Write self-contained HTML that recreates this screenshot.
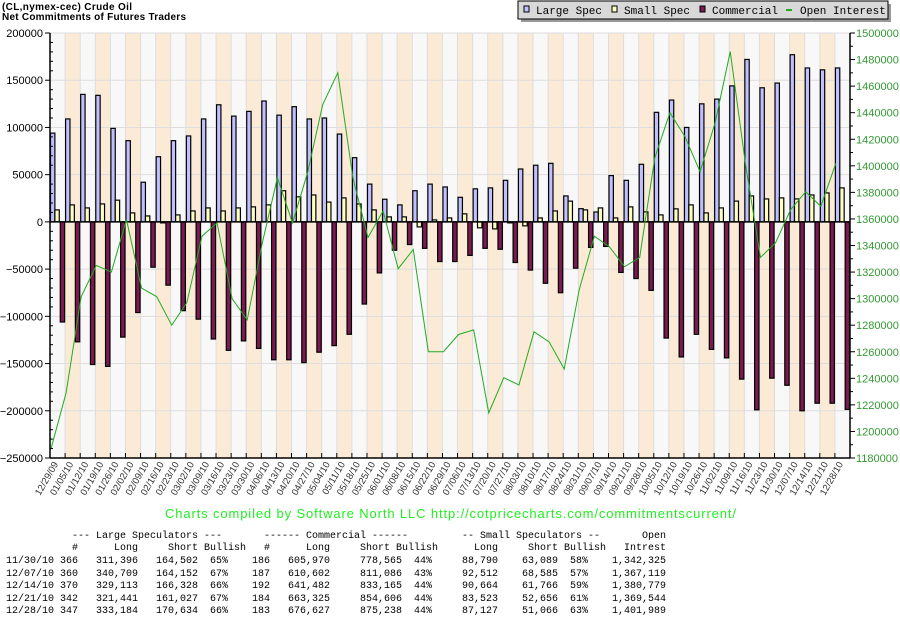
<!DOCTYPE html>
<html><head><meta charset="utf-8">
<style>
html,body{margin:0;padding:0;background:#fff;}
body{width:900px;height:620px;position:relative;overflow:hidden;font-family:"Liberation Sans",sans-serif;}
#chart{position:absolute;left:0;top:0;}
.tbl{position:absolute;left:0;top:530px;width:900px;height:90px;font-family:"Liberation Mono",monospace;font-size:10px;color:#000;}
.tbl span{position:absolute;white-space:pre;line-height:12px;}
</style></head><body>
<svg id="chart" width="900" height="620" xmlns="http://www.w3.org/2000/svg">
  <text x="2" y="10" font-family="Liberation Sans, sans-serif" font-size="10" font-weight="bold" textLength="130">(CL,nymex-cec) Crude Oil</text>
  <text x="2" y="20" font-family="Liberation Sans, sans-serif" font-size="10" font-weight="bold" textLength="184">Net Commitments of Futures Traders</text>
  <g id="plot"></g>
  <g>
    <rect x="521" y="4" width="370" height="18" fill="#999"/>
    <rect x="518" y="1" width="370" height="18" fill="#d8d8d8" stroke="#000" stroke-width="1"/>
    <g><rect x="524" y="6" width="5" height="6" fill="#c0c0ff" stroke="#000"/><text x="536" y="14" font-family="Liberation Mono, monospace" font-size="11">Large Spec</text></g>
    <g><rect x="612" y="6" width="5" height="6" fill="#ffffc0" stroke="#000"/><text x="624" y="14" font-family="Liberation Mono, monospace" font-size="11">Small Spec</text></g>
    <g><rect x="700" y="6" width="5" height="6" fill="#7a1a50" stroke="#000"/><text x="712" y="14" font-family="Liberation Mono, monospace" font-size="11">Commercial</text></g>
    <g><line x1="786" y1="10" x2="792" y2="10" stroke="#22aa22" stroke-width="2"/><text x="800" y="14" font-family="Liberation Mono, monospace" font-size="11">Open Interest</text></g>
  </g>
  <text x="165" y="518" font-family="Liberation Sans, sans-serif" font-size="13" fill="#22ee22" textLength="571">Charts compiled by Software North LLC  http://cotpricecharts.com/commitmentscurrent/</text>
</svg>

<div class="tbl">
  <span style="left:72px;top:1px">--- Large Speculators ---</span>
  <span style="left:264px;top:1px">------ Commercial ------</span>
  <span style="left:462px;top:1px">-- Small Speculators --</span>
  <span style="left:642px;top:1px">Open</span>
  <span style="left:72px;top:13px">#</span><span style="left:114px;top:13px">Long</span><span style="left:168px;top:13px">Short</span><span style="left:204px;top:13px">Bullish</span>
  <span style="left:264px;top:13px">#</span><span style="left:306px;top:13px">Long</span><span style="left:360px;top:13px">Short</span><span style="left:396px;top:13px">Bullish</span>
  <span style="left:474px;top:13px">Long</span><span style="left:528px;top:13px">Short</span><span style="left:564px;top:13px">Bullish</span><span style="left:624px;top:13px">Intrest</span>

  <span style="left:6px;top:26px">11/30/10 366</span><span style="left:96px;top:26px">311,396</span><span style="left:156px;top:26px">164,502</span><span style="left:210px;top:26px">65%</span><span style="left:252px;top:26px">186</span><span style="left:288px;top:26px">605,970</span><span style="left:360px;top:26px">778,565</span><span style="left:414px;top:26px">44%</span><span style="left:462px;top:26px">88,790</span><span style="left:522px;top:26px">63,089</span><span style="left:570px;top:26px">58%</span><span style="left:612px;top:26px">1,342,325</span>
  <span style="left:6px;top:38.5px">12/07/10 360</span><span style="left:96px;top:38.5px">340,709</span><span style="left:156px;top:38.5px">164,152</span><span style="left:210px;top:38.5px">67%</span><span style="left:252px;top:38.5px">187</span><span style="left:288px;top:38.5px">610,602</span><span style="left:360px;top:38.5px">811,086</span><span style="left:414px;top:38.5px">43%</span><span style="left:462px;top:38.5px">92,512</span><span style="left:522px;top:38.5px">68,585</span><span style="left:570px;top:38.5px">57%</span><span style="left:612px;top:38.5px">1,367,119</span>
  <span style="left:6px;top:51px">12/14/10 370</span><span style="left:96px;top:51px">329,113</span><span style="left:156px;top:51px">166,328</span><span style="left:210px;top:51px">66%</span><span style="left:252px;top:51px">192</span><span style="left:288px;top:51px">641,482</span><span style="left:360px;top:51px">833,165</span><span style="left:414px;top:51px">44%</span><span style="left:462px;top:51px">90,664</span><span style="left:522px;top:51px">61,766</span><span style="left:570px;top:51px">59%</span><span style="left:612px;top:51px">1,380,779</span>
  <span style="left:6px;top:63.5px">12/21/10 342</span><span style="left:96px;top:63.5px">321,441</span><span style="left:156px;top:63.5px">161,027</span><span style="left:210px;top:63.5px">67%</span><span style="left:252px;top:63.5px">184</span><span style="left:288px;top:63.5px">663,325</span><span style="left:360px;top:63.5px">854,606</span><span style="left:414px;top:63.5px">44%</span><span style="left:462px;top:63.5px">83,523</span><span style="left:522px;top:63.5px">52,656</span><span style="left:570px;top:63.5px">61%</span><span style="left:612px;top:63.5px">1,369,544</span>
  <span style="left:6px;top:76px">12/28/10 347</span><span style="left:96px;top:76px">333,184</span><span style="left:156px;top:76px">170,634</span><span style="left:210px;top:76px">66%</span><span style="left:252px;top:76px">183</span><span style="left:288px;top:76px">676,627</span><span style="left:360px;top:76px">875,238</span><span style="left:414px;top:76px">44%</span><span style="left:462px;top:76px">87,127</span><span style="left:522px;top:76px">51,066</span><span style="left:570px;top:76px">63%</span><span style="left:612px;top:76px">1,401,989</span>
</div>

<script>
const dates = ["12/29/09","01/05/10","01/12/10","01/19/10","01/26/10","02/02/10","02/09/10","02/16/10","02/23/10","03/02/10","03/09/10","03/16/10","03/23/10","03/30/10","04/06/10","04/13/10","04/20/10","04/27/10","05/04/10","05/11/10","05/18/10","05/25/10","06/01/10","06/08/10","06/15/10","06/22/10","06/29/10","07/06/10","07/13/10","07/20/10","07/27/10","08/03/10","08/10/10","08/17/10","08/24/10","08/31/10","09/07/10","09/14/10","09/21/10","09/28/10","10/05/10","10/12/10","10/19/10","10/26/10","11/02/10","11/09/10","11/16/10","11/23/10","11/30/10","12/07/10","12/14/10","12/21/10","12/28/10"];
const largeSpec = [94000,109000,135000,134000,99000,86000,42000,69000,86000,91000,109000,124000,112000,117000,128000,113000,122000,109000,110000,93000,68000,40000,24000,18000,33000,40000,37000,26000,35000,36000,44000,56000,60000,62000,27500,14000,10500,49000,44000,61000,116000,129000,100000,125000,130000,144000,172000,142000,147000,177000,163000,161000,163000];
const smallSpec = [12700,18000,14800,19000,23000,9500,6300,-1000,7400,11600,14800,11600,14800,15900,18000,33000,26500,28500,21000,25400,19000,12700,5300,5300,-5300,2100,4200,8500,-6300,-7400,-1000,-4200,4200,11600,22000,12700,14800,4200,15900,10600,7400,13800,18000,9500,14800,22000,27500,24300,25400,24300,28500,30700,36000];
const commercial = [-106000,-127000,-151000,-153000,-122000,-96000,-48000,-67000,-94000,-103000,-124000,-136000,-126000,-134000,-146000,-146000,-149000,-138000,-131000,-119000,-87000,-54000,-30000,-24000,-28000,-42000,-42000,-35500,-28000,-29000,-43000,-51000,-65000,-75000,-49000,-27000,-26000,-53500,-60000,-72500,-123000,-143000,-119000,-135000,-144000,-166500,-199000,-165500,-173000,-200000,-192000,-192000,-198600];
const openInterest = [1187000,1229000,1301500,1325000,1320000,1359500,1308000,1301500,1280000,1297000,1347000,1357000,1300000,1284000,1342000,1391000,1357000,1395000,1446000,1470000,1391000,1346000,1366000,1322500,1337000,1260000,1260000,1273000,1276500,1214000,1240500,1235000,1275000,1267500,1247000,1307000,1347000,1339000,1324000,1331000,1406000,1440000,1422000,1395500,1432500,1486000,1402000,1331000,1342000,1367000,1380500,1369500,1401989];
const leftTicks = [200000,150000,100000,50000,0,-50000,-100000,-150000,-200000,-250000];
const rightTicks = [1500000,1480000,1460000,1440000,1420000,1400000,1380000,1360000,1340000,1320000,1300000,1280000,1260000,1240000,1220000,1200000,1180000];

const NS="http://www.w3.org/2000/svg";
const X0=50, X1=850, YT=33, YB=458;
const LMIN=-250000, LMAX=200000, RMIN=1180000, RMAX=1500000;
const colW=(X1-X0)/dates.length;
function xCol(i){return X0+i*colW;}
function yL(v){return YB-(v-LMIN)/(LMAX-LMIN)*(YB-YT);}
function yR(v){return YB-(v-RMIN)/(RMAX-RMIN)*(YB-YT);}
const plot=document.getElementById('plot');
function mk(tag,attrs,parent){const e=document.createElementNS(NS,tag);for(const k in attrs)e.setAttribute(k,attrs[k]);(parent||plot).appendChild(e);return e;}

// bands
dates.forEach((d,i)=>{
  const r=mk('rect',{x:xCol(i),y:YT,width:colW,height:YB-YT,fill:(i%2? '#fbebd6':'#f8f8f8')});
  
  
  mk('line',{x1:xCol(i),y1:YT,x2:xCol(i),y2:YB,stroke:'#dddddd','stroke-width':1});
});
// horizontal grid
leftTicks.forEach(v=>{
  const g=mk('line',{x1:X0,y1:yL(v),x2:X1,y2:yL(v),stroke:'#dddddd','stroke-width':1});
  
  
});
// bars
const bw=colW*0.29;
dates.forEach((d,i)=>{
  const c=xCol(i), y0=yL(0);
  [[largeSpec[i],0,'#c0c0ff','bar-large-spec'],[smallSpec[i],bw,'#ffffc0','bar-small-spec'],[commercial[i],bw*2+1,'#7a1a50','bar-commercial']].forEach(s=>{
    const y=yL(s[0]);
    const b=mk('rect',{x:c+s[1]+0.5,y:Math.min(y,y0),width:bw,height:Math.max(1,Math.abs(y-y0)),fill:s[2],stroke:'#000','stroke-width':1.2});
    
    
  });
});
// zero line
mk('line',{x1:X0,y1:yL(0),x2:X1,y2:yL(0),stroke:'#000','stroke-width':1.5});
// OI line
const pts=openInterest.map((v,i)=>(xCol(i)+1)+','+yR(v)).join(' ');
const oi=mk('polyline',{points:pts,fill:'none',stroke:'#22aa22','stroke-width':1});


// axes
mk('line',{x1:X0,y1:YT,x2:X0,y2:YB,stroke:'#000','stroke-width':1.5});
mk('line',{x1:X1,y1:YT,x2:X1,y2:YB,stroke:'#000','stroke-width':1.5});
mk('line',{x1:X0,y1:YB,x2:X1,y2:YB,stroke:'#000','stroke-width':1.5});
leftTicks.forEach(v=>{
  const y=yL(v);
  mk('line',{x1:X0-5,y1:y,x2:X0,y2:y,stroke:'#000'});
  const t=mk('text',{x:43,y:y+4,'text-anchor':'end','font-size':11,'font-family':'Liberation Sans, sans-serif',fill:'#000'});
  t.textContent=String(v).replace('-','\u2212');
  
  
});
for(let v=LMIN+10000; v<LMAX; v+=10000){ if(v%50000) mk('line',{x1:X0,y1:yL(v),x2:X0+3,y2:yL(v),stroke:'#000'}); }
rightTicks.forEach(v=>{
  const y=yR(v);
  mk('line',{x1:X1,y1:y,x2:X1+5,y2:y,stroke:'#000'});
  const t=mk('text',{x:856,y:y+4,'font-size':11,'font-family':'Liberation Sans, sans-serif',fill:'#339933'});
  t.textContent=String(v);
  
  
});
for(let v=RMIN+10000; v<RMAX; v+=20000){ mk('line',{x1:X1,y1:yR(v),x2:X1+3,y2:yR(v),stroke:'#000'}); }
// x ticks & labels
dates.forEach((d,i)=>{
  mk('line',{x1:xCol(i),y1:YB,x2:xCol(i),y2:YB-5,stroke:'#000'});
  const cx=xCol(i)+colW/2+1, cy=464;
  const t=mk('text',{x:cx,y:cy,'text-anchor':'end','font-size':9.5,'font-family':'Liberation Sans, sans-serif',fill:'#333',transform:'rotate(-60 '+cx+' '+cy+')'});
  t.textContent=d;
  
  
});
</script>
</body></html>
